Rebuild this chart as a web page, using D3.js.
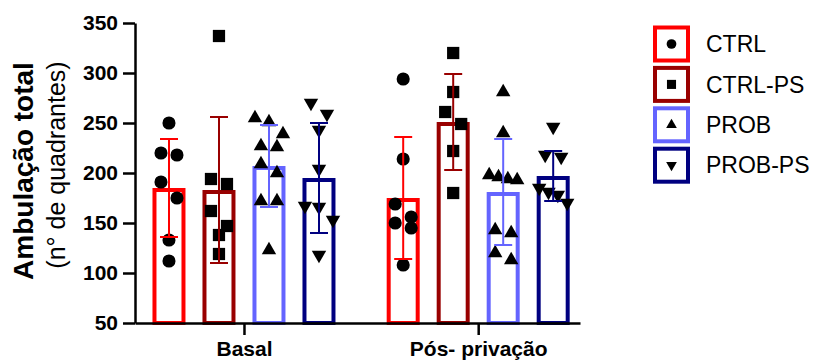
<!DOCTYPE html>
<html>
<head>
<meta charset="utf-8">
<script src="https://cdn.jsdelivr.net/npm/d3@7"></script>
<style>
  body { margin: 0; background: #fff; }
  text { font-family: "Liberation Sans", Arial, sans-serif; }
</style>
</head>
<body>
<div id="chart"></div>
<script>
// data
var groups = ["Basal", "Pós- privação"];
var seriesNames = ["CTRL", "CTRL-PS", "PROB", "PROB-PS"];
var meansBasal = [185, 183, 207, 195];
var meansPos = [175, 251, 181, 197];
var sdBasal = [49, 73, 41, 55];
var sdPos = [61, 48, 53, 25];
var pointsBasal = [
  [250, 220, 218, 191, 175, 133, 112],
  [337, 194, 189, 162, 147, 138, 119],
  [255, 251, 239, 227, 226, 209, 200, 172, 172, 123],
  [270, 259, 243, 204, 167, 166, 153, 118]
];
var pointsPos = [
  [294, 214, 169, 156, 150, 145, 108],
  [320, 281, 261, 249, 222, 180],
  [281, 240, 198, 196, 194, 193, 143, 140, 120, 113],
  [246, 218, 216, 185, 181, 178, 170]
];
var yTicks = [50, 100, 150, 200, 250, 300, 350];

var colors = ["#ff0000", "#990000", "#6464ff", "#000080"];
var shapes = [d3.symbolCircle, d3.symbolSquare, d3.symbolTriangle, d3.symbolTriangle];
var sizes = [135, 150, 90, 90];
var rotations = [0, 0, 0, 180];

var width = 817, height = 362;

var svg = d3.select("#chart").append("svg")
    .attr("width", width)
    .attr("height", height);

// scales
var y = d3.scaleLinear().domain([50, 350]).range([323, 23]);
var x0 = d3.scalePoint().domain(groups).range([135, 580]).padding(0.45).align(0.517);
var x1 = d3.scaleBand().domain(seriesNames).range([-100, 100])
    .paddingInner(0.42).paddingOuter(0.21);
var bw = x1.bandwidth();

var allMeans = [meansBasal, meansPos];
var allSd = [sdBasal, sdPos];
var allPoints = [pointsBasal, pointsPos];

// rows of close values spread sideways (like a scatter dot plot)
function spread(vals) {
  var sorted = vals.slice().sort(function(a, b) { return b - a; });
  var rows = [], row = null;
  sorted.forEach(function(v) {
    if (row && row[0] - v < 17) row.push(v);
    else { row = [v]; rows.push(row); }
  });
  var out = [];
  rows.forEach(function(r) {
    var n = r.length;
    var step = n > 1 ? Math.min(16, 28 / (n - 1)) : 0;
    r.forEach(function(v, i) {
      out.push({ value: v, dx: (i - (n - 1) / 2) * step });
    });
  });
  return out;
}

groups.forEach(function(g, gi) {
  var gx = x0(g);
  seriesNames.forEach(function(s, si) {
    var cx = gx + x1(s) + bw / 2;
    var m = allMeans[gi][si], sd = allSd[gi][si];

    // bar (outline drawn inside the top edge)
    svg.append("rect")
        .attr("x", gx + x1(s))
        .attr("y", y(m) + 2)
        .attr("width", bw)
        .attr("height", y(50) - y(m) - 2)
        .attr("fill", "#fff")
        .attr("stroke", colors[si])
        .attr("stroke-width", 4);

    // points
    svg.selectAll(null)
        .data(spread(allPoints[gi][si]))
      .enter().append("path")
        .attr("d", d3.symbol().type(shapes[si]).size(sizes[si]))
        .attr("transform", function(d) {
          return "translate(" + (cx + d.dx) + "," + y(d.value) + ") rotate(" + rotations[si] + ")";
        })
        .attr("fill", "#000");

    // error bar
    var eb = svg.append("g")
        .attr("stroke", colors[si])
        .attr("stroke-width", 2);
    eb.append("line")
        .attr("x1", cx).attr("x2", cx)
        .attr("y1", y(m - sd)).attr("y2", y(m + sd));
    [m - sd, m + sd].forEach(function(v) {
      eb.append("line")
          .attr("x1", cx - 9).attr("x2", cx + 9)
          .attr("y1", y(v)).attr("y2", y(v));
    });
  });
});

// axes
var yAxis = svg.append("g")
    .attr("transform", "translate(135,0)")
    .call(d3.axisLeft(y).tickValues(yTicks).tickSize(12).tickSizeOuter(0).tickPadding(5));
var xAxis = svg.append("g")
    .attr("transform", "translate(0,323)")
    .call(d3.axisBottom(x0).tickSize(12).tickSizeOuter(0).tickPadding(6));

[yAxis, xAxis].forEach(function(a) {
  a.select(".domain").attr("stroke", "#000").attr("stroke-width", 2.5);
  a.selectAll(".tick line").attr("stroke", "#000").attr("stroke-width", 2.5);
  a.selectAll(".tick text")
      .attr("fill", "#000")
      .style("font-family", "'Liberation Sans', Arial, sans-serif")
      .style("font-weight", "bold")
      .style("font-size", "21px");
});

// y axis title
svg.append("text")
    .attr("transform", "translate(33,171) rotate(-90)")
    .attr("text-anchor", "middle")
    .style("font-weight", "bold")
    .style("font-size", "28px")
    .text("Ambulação total");
svg.append("text")
    .attr("transform", "translate(65,165) rotate(-90)")
    .attr("text-anchor", "middle")
    .style("font-size", "25px")
    .text("(n° de quadrantes)");

// legend
var legend = svg.selectAll(".legend")
    .data(seriesNames)
  .enter().append("g")
    .attr("class", "legend")
    .attr("transform", function(d, i) { return "translate(671.5," + (44 + i * 40.4) + ")"; });

legend.append("rect")
    .attr("x", -16.5).attr("y", -16.5)
    .attr("width", 33).attr("height", 33)
    .attr("fill", "#fff")
    .attr("stroke", function(d, i) { return colors[i]; })
    .attr("stroke-width", 4);

legend.append("path")
    .attr("d", function(d, i) { return d3.symbol().type(shapes[i]).size(sizes[i] * 0.55)(); })
    .attr("transform", function(d, i) { return "rotate(" + rotations[i] + ")"; })
    .attr("fill", "#000");

legend.append("text")
    .attr("x", 34.5)
    .attr("dy", "0.36em")
    .style("font-size", "23px")
    .text(function(d) { return d; });
</script>
</body>
</html>
